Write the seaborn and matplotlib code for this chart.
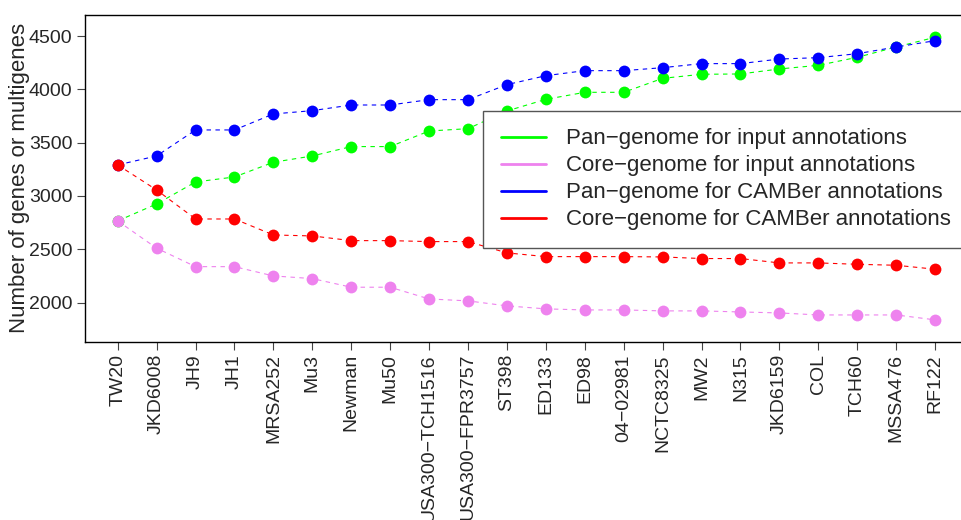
import matplotlib
matplotlib.use("Agg")
import matplotlib.pyplot as plt
import seaborn as sns
import pandas as pd
import numpy as np

strains = ["TW20", "JKD6008", "JH9", "JH1", "MRSA252", "Mu3", "Newman", "Mu50",
           "USA300\u2212TCH1516", "USA300\u2212FPR3757", "ST398", "ED133", "ED98",
           "04\u221202981", "NCTC8325", "MW2", "N315", "JKD6159", "COL", "TCH60",
           "MSSA476", "RF122"]

pan_input = [2766, 2925, 3131, 3178, 3316, 3375, 3463, 3463, 3609, 3631, 3797,
             3906, 3972, 3972, 4103, 4141, 4144, 4191, 4225, 4300, 4397, 4488]
core_input = [2766, 2510, 2337, 2337, 2250, 2225, 2144, 2144, 2034, 2016, 1969,
              1941, 1931, 1931, 1922, 1922, 1912, 1903, 1884, 1884, 1884, 1838]
pan_camber = [3291, 3375, 3619, 3619, 3769, 3800, 3853, 3853, 3903, 3903, 4044,
              4128, 4175, 4175, 4203, 4241, 4241, 4284, 4297, 4334, 4397, 4456]
core_camber = [3291, 3056, 2784, 2784, 2634, 2625, 2581, 2581, 2572, 2572, 2466,
               2431, 2431, 2431, 2428, 2413, 2413, 2372, 2372, 2359, 2350, 2313]

series_names = ["Pan\u2212genome for input annotations",
                "Core\u2212genome for input annotations",
                "Pan\u2212genome for CAMBer annotations",
                "Core\u2212genome for CAMBer annotations"]
series_colors = ["#00FF00", "#EE82EE", "#0000FF", "#FF0000"]

sns.set_style("ticks")
plt.rcParams["font.family"] = ["Liberation Sans", "DejaVu Sans"]

fig = plt.figure(figsize=(9.62, 5.20), dpi=100)
ax = fig.add_axes([85 / 962, 178.5 / 520, (967.8 - 85) / 962, (505 - 178.5) / 520])

pos = np.arange(len(strains))
frames = []
for name, vals in zip(series_names, [pan_input, core_input, pan_camber, core_camber]):
    frames.append(pd.DataFrame({"pos": pos, "value": vals, "series": name}))
df = pd.concat(frames, ignore_index=True)

for name, color in zip(series_names, series_colors):
    sub = df[df["series"] == name]
    sns.lineplot(data=sub, x="pos", y="value", ax=ax, color=color,
                 linewidth=0.8, linestyle=(0, (4, 4)), marker="o",
                 markersize=8.5, markeredgewidth=0, legend=False)

ax.set_xlim(-0.84, 21.84)
ax.set_ylim(1635, 4697)
ax.set_xticks(pos)
ax.set_xticklabels(strains, rotation=90, fontsize=14)
ax.set_yticks([2000, 2500, 3000, 3500, 4000, 4500])
ax.set_yticklabels(["2000", "2500", "3000", "3500", "4000", "4500"], fontsize=14)
ax.tick_params(axis="both", direction="out", length=6, width=0.8,
               color="#444444", pad=3)
ax.set_xlabel("")
ax.set_ylabel("Number of genes or multigenes", fontsize=16, labelpad=-1)
for s in ax.spines.values():
    s.set_color("black")
    s.set_linewidth(1.0)

handles = [plt.Line2D([], [], color=c, linewidth=2) for c in series_colors]
leg = ax.legend(handles, series_names, loc="upper left",
                bbox_to_anchor=(483.3 / 962, (520 - 110.7) / 520),
                bbox_transform=fig.transFigure, fontsize=16, frameon=True,
                fancybox=False, borderaxespad=0, handlelength=2.0,
                handletextpad=0.9, labelspacing=0.27, borderpad=0.8)
leg.get_frame().set_edgecolor("#555555")
leg.get_frame().set_linewidth(1.0)
leg.get_frame().set_alpha(1.0)

fig.savefig("out.png", dpi=100)
